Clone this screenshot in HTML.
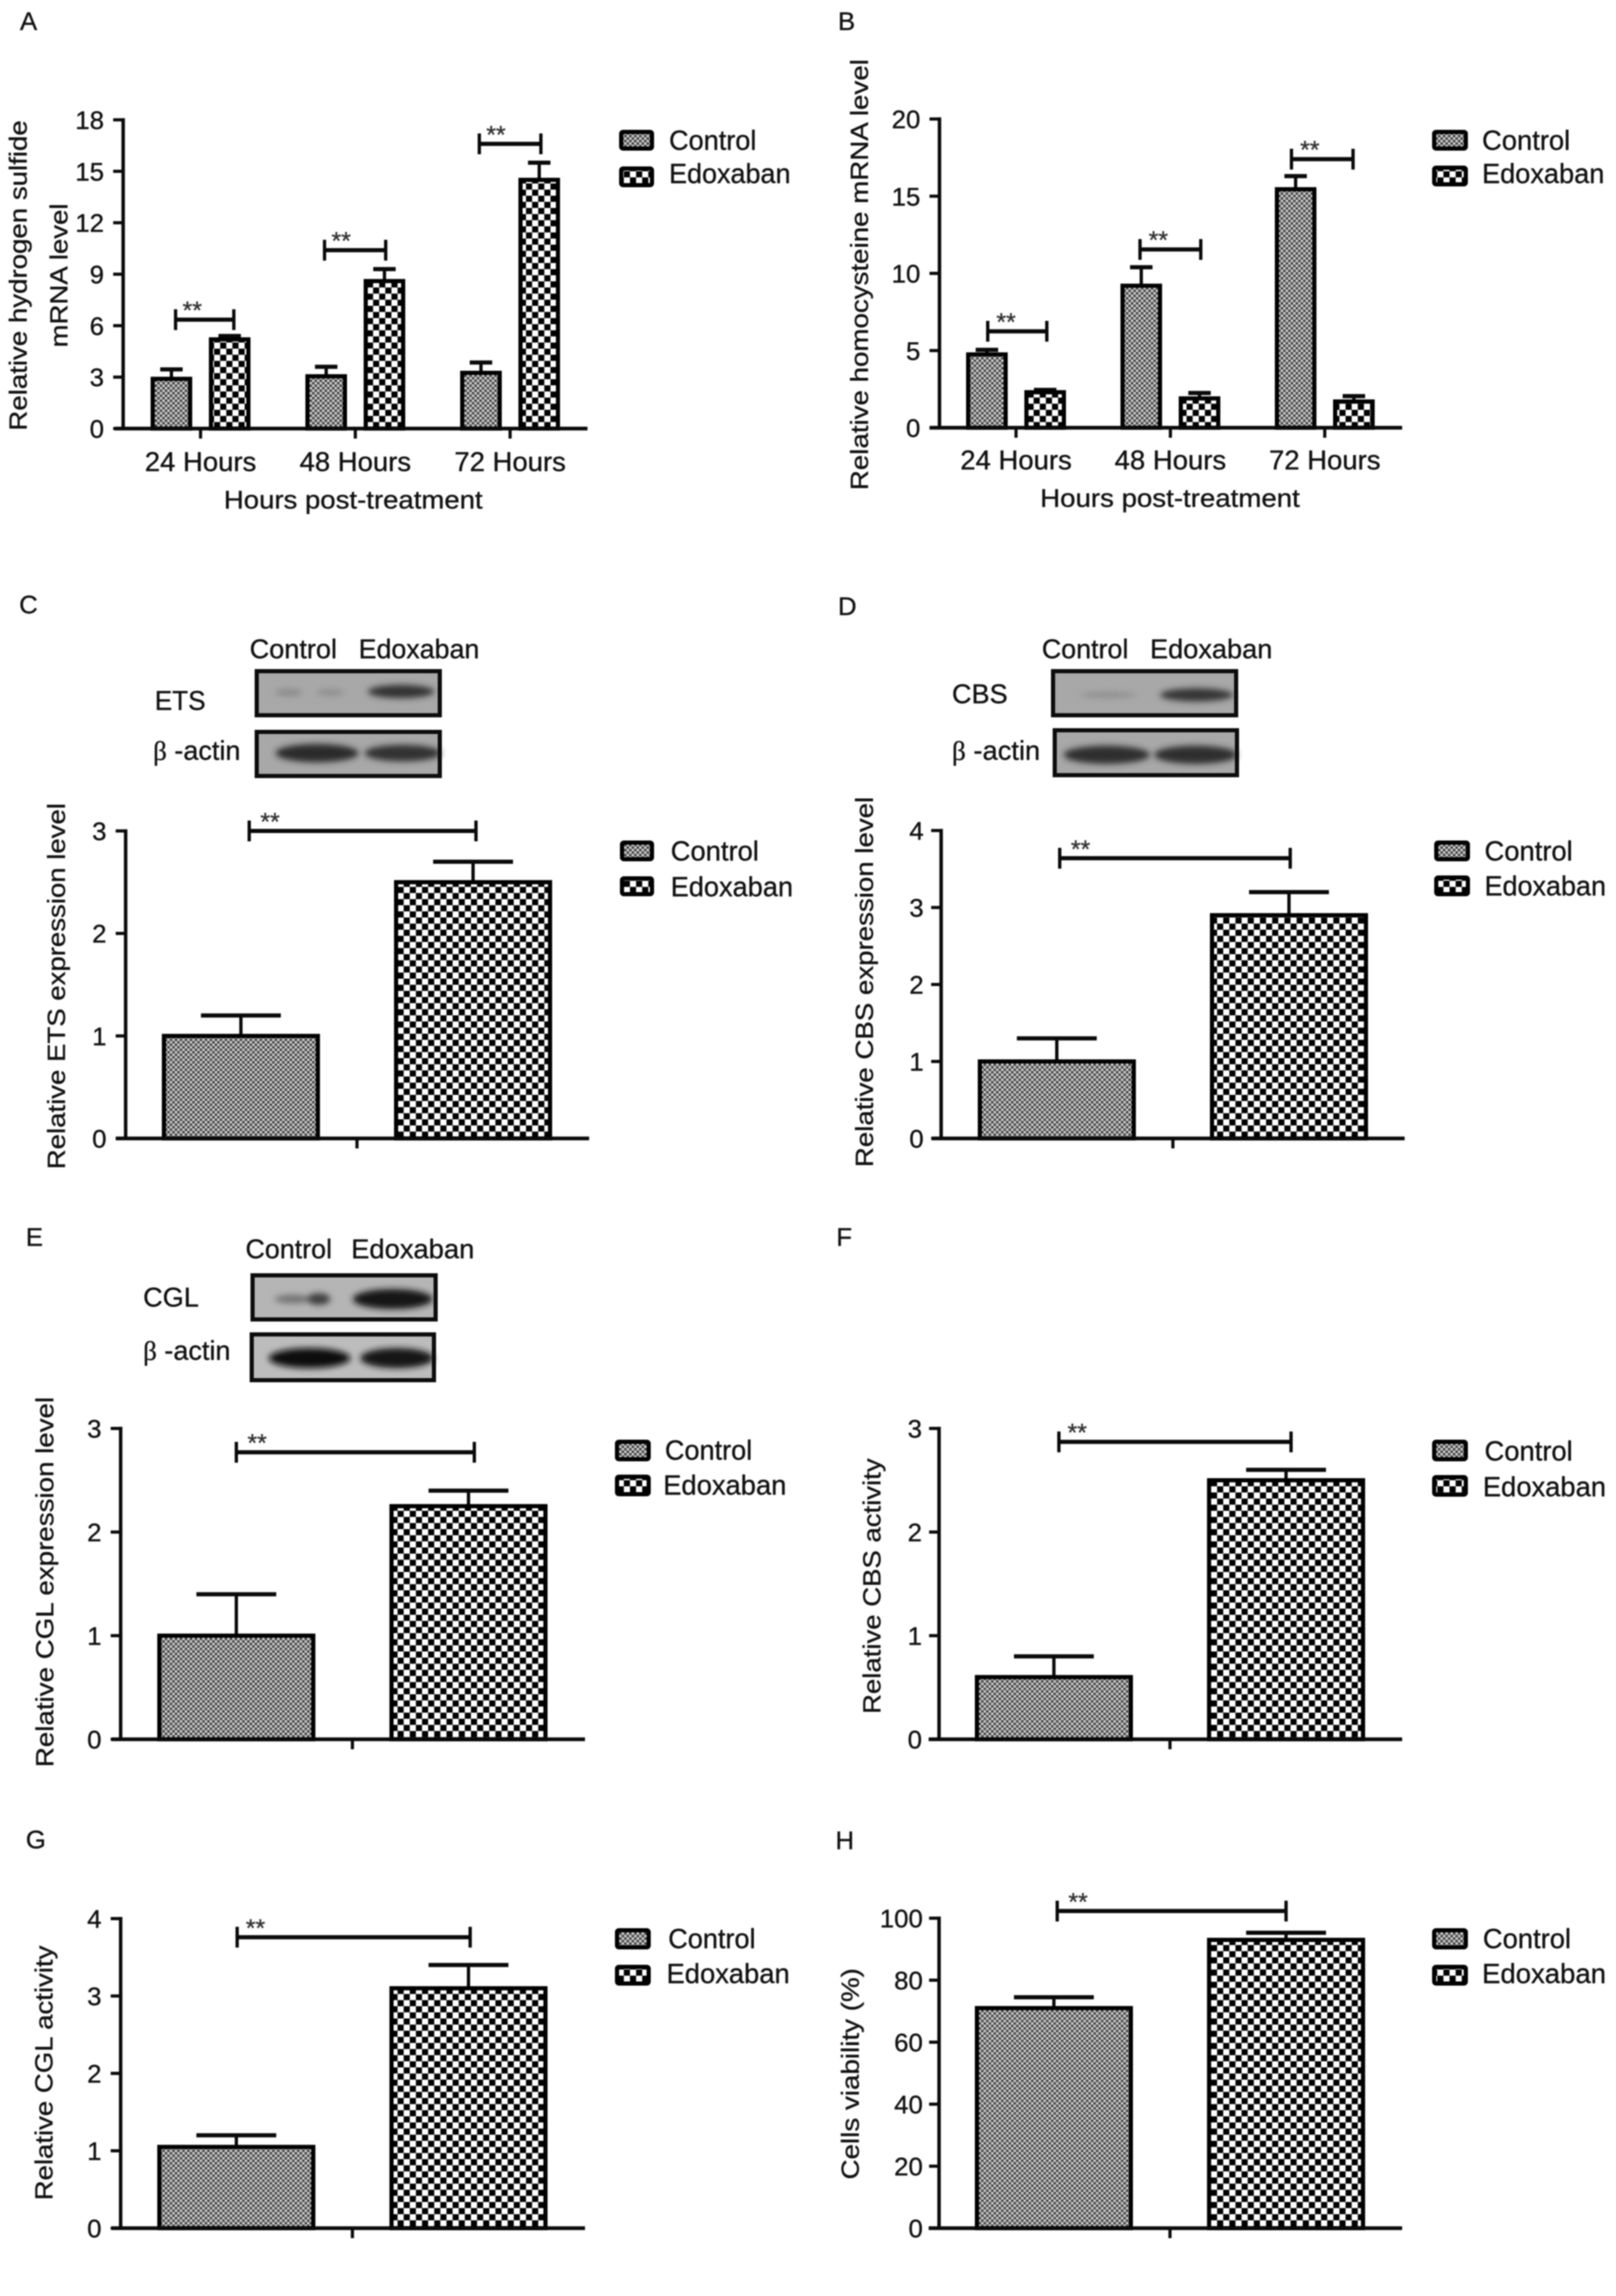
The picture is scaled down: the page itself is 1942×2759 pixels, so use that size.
<!DOCTYPE html>
<html lang="en">
<head>
<meta charset="utf-8">
<title>Edoxaban bar charts and western blots</title>
<style>
html,body{margin:0;padding:0;background:#fff;width:1942px;height:2759px;overflow:hidden}
svg{display:block;filter:blur(.75px)}
text{font-family:"Liberation Sans","DejaVu Sans",sans-serif;fill:#111;stroke:#111;stroke-width:.4px}
.lg{font-size:33px}.tt{font-size:30px}.bl{font-size:32px}.pl{font-size:31px}.xt{font-size:31px}
.beta{font-family:"Liberation Serif","DejaVu Serif",serif}
</style>
</head>
<body>
<svg id="figure" xmlns="http://www.w3.org/2000/svg" width="1942" height="2759" viewBox="0 0 1942 2759">
<defs>
<pattern id="ctrlPat" patternUnits="userSpaceOnUse" width="6" height="6">
<rect width="6" height="6" fill="#cfcfcf"/><rect width="3" height="3" fill="#444"/><rect x="3" y="3" width="3" height="3" fill="#444"/>
</pattern>
<pattern id="edoxPat" patternUnits="userSpaceOnUse" width="14.7" height="14.7">
<rect width="14.7" height="14.7" fill="#fff"/><rect width="7.35" height="7.35" fill="#000"/><rect x="7.35" y="7.35" width="7.35" height="7.35" fill="#000"/>
</pattern>
<filter id="bandBlur" x="-30%" y="-60%" width="160%" height="220%"><feGaussianBlur stdDeviation="3.6"/></filter>
</defs>

<!-- Panel A -->
<g>
<text class="pl" x="24" y="36">A</text>
<text class="tt" text-anchor="middle" transform="translate(32,331) rotate(-90)" textLength="373" lengthAdjust="spacingAndGlyphs">Relative hydrogen sulfide</text>
<text class="tt" text-anchor="middle" transform="translate(81,331) rotate(-90)" textLength="173" lengthAdjust="spacingAndGlyphs">mRNA level</text>
<text class="xt" x="269" y="611" textLength="311" lengthAdjust="spacingAndGlyphs">Hours post-treatment</text>
<rect x="746.5" y="158.5" width="37" height="20" fill="url(#ctrlPat)" stroke="#000" stroke-width="5" rx="2"/>
<rect x="746.5" y="202.5" width="37" height="20" fill="url(#edoxPat)" stroke="#000" stroke-width="5" rx="2"/>
<text class="lg" x="804" y="180" textLength="105" lengthAdjust="spacingAndGlyphs">Control</text>
<text class="lg" x="804" y="220" textLength="146" lengthAdjust="spacingAndGlyphs">Edoxaban</text>
</g>

<!-- Panel B -->
<g>
<text class="pl" x="1007" y="36">B</text>
<text class="tt" text-anchor="middle" transform="translate(1043,330) rotate(-90)" textLength="518" lengthAdjust="spacingAndGlyphs">Relative homocysteine mRNA level</text>
<text class="xt" x="1250" y="609" textLength="312" lengthAdjust="spacingAndGlyphs">Hours post-treatment</text>
<rect x="1723.5" y="158.5" width="38" height="20" fill="url(#ctrlPat)" stroke="#000" stroke-width="5" rx="2"/>
<rect x="1723.5" y="201.5" width="38" height="20" fill="url(#edoxPat)" stroke="#000" stroke-width="5" rx="2"/>
<text class="lg" x="1781" y="180" textLength="106" lengthAdjust="spacingAndGlyphs">Control</text>
<text class="lg" x="1781" y="220" textLength="147" lengthAdjust="spacingAndGlyphs">Edoxaban</text>
</g>

<!-- Panel C -->
<g>
<text class="pl" x="23" y="737">C</text>
<text class="bl" x="300" y="791" textLength="105" lengthAdjust="spacingAndGlyphs">Control</text>
<text class="bl" x="431" y="791" textLength="145" lengthAdjust="spacingAndGlyphs">Edoxaban</text>
<text class="bl" x="186" y="853" textLength="61" lengthAdjust="spacingAndGlyphs">ETS</text>
<text class="bl" x="184" y="913" textLength="105" lengthAdjust="spacingAndGlyphs"><tspan class="beta">β</tspan> -actin</text>
<g>
<rect x="308" y="806" width="221" height="54" fill="#a8a8a8"/>
<g filter="url(#bandBlur)"><ellipse cx="347" cy="832" rx="16" ry="4" fill="#888"/><ellipse cx="397" cy="832" rx="17" ry="4" fill="#8e8e8e"/><ellipse cx="482" cy="831" rx="40" ry="8" fill="#333"/></g>
<rect x="308.5" y="806.5" width="220" height="53" fill="none" stroke="#0c0c0c" stroke-width="5"/>
</g>
<g>
<rect x="308" y="879" width="221" height="54" fill="#a8a8a8"/>
<g filter="url(#bandBlur)"><ellipse cx="381" cy="905" rx="50" ry="11" fill="#2c2c2c"/><ellipse cx="484" cy="905" rx="46" ry="10" fill="#303030"/></g>
<rect x="308.5" y="879.5" width="220" height="53" fill="none" stroke="#0c0c0c" stroke-width="5"/>
</g>
<text class="tt" text-anchor="middle" transform="translate(78,1185) rotate(-90)" textLength="440" lengthAdjust="spacingAndGlyphs">Relative ETS expression level</text>
<rect x="747.5" y="1012.5" width="36" height="20" fill="url(#ctrlPat)" stroke="#000" stroke-width="5" rx="2"/>
<rect x="747.5" y="1055.5" width="36" height="19" fill="url(#edoxPat)" stroke="#000" stroke-width="5" rx="2"/>
<text class="lg" x="806" y="1034" textLength="106" lengthAdjust="spacingAndGlyphs">Control</text>
<text class="lg" x="806" y="1077" textLength="147" lengthAdjust="spacingAndGlyphs">Edoxaban</text>
</g>

<!-- Panel D -->
<g>
<text class="pl" x="1007" y="739">D</text>
<text class="bl" x="1252" y="791" textLength="104" lengthAdjust="spacingAndGlyphs">Control</text>
<text class="bl" x="1382" y="791" textLength="147" lengthAdjust="spacingAndGlyphs">Edoxaban</text>
<text class="bl" x="1144" y="845" textLength="67" lengthAdjust="spacingAndGlyphs">CBS</text>
<text class="bl" x="1144" y="913" textLength="106" lengthAdjust="spacingAndGlyphs"><tspan class="beta">β</tspan> -actin</text>
<g>
<rect x="1265" y="806" width="221" height="54" fill="#a8a8a8"/>
<g filter="url(#bandBlur)"><ellipse cx="1332" cy="835" rx="34" ry="3" fill="#8a8a8a"/><ellipse cx="1438" cy="835" rx="44" ry="8" fill="#363636"/></g>
<rect x="1265.5" y="806.5" width="220" height="53" fill="none" stroke="#0c0c0c" stroke-width="5"/>
</g>
<g>
<rect x="1267" y="877" width="220" height="55" fill="#a8a8a8"/>
<g filter="url(#bandBlur)"><ellipse cx="1330" cy="907" rx="52" ry="11" fill="#2e2e2e"/><ellipse cx="1437" cy="907" rx="50" ry="11" fill="#2e2e2e"/></g>
<rect x="1267.5" y="877.5" width="219" height="54" fill="none" stroke="#0c0c0c" stroke-width="5"/>
</g>
<text class="tt" text-anchor="middle" transform="translate(1049,1180) rotate(-90)" textLength="445" lengthAdjust="spacingAndGlyphs">Relative CBS expression level</text>
<rect x="1726" y="1012.5" width="38" height="20" fill="url(#ctrlPat)" stroke="#000" stroke-width="5" rx="2"/>
<rect x="1726" y="1054.5" width="38" height="20" fill="url(#edoxPat)" stroke="#000" stroke-width="5" rx="2"/>
<text class="lg" x="1784" y="1034" textLength="106" lengthAdjust="spacingAndGlyphs">Control</text>
<text class="lg" x="1784" y="1076" textLength="146" lengthAdjust="spacingAndGlyphs">Edoxaban</text>
</g>

<!-- Panel E -->
<g>
<text class="pl" x="31" y="1497">E</text>
<text class="bl" x="295" y="1512" textLength="104" lengthAdjust="spacingAndGlyphs">Control</text>
<text class="bl" x="422" y="1512" textLength="148" lengthAdjust="spacingAndGlyphs">Edoxaban</text>
<text class="bl" x="172" y="1570" textLength="67" lengthAdjust="spacingAndGlyphs">CGL</text>
<text class="bl" x="172" y="1634" textLength="105" lengthAdjust="spacingAndGlyphs"><tspan class="beta">β</tspan> -actin</text>
<g>
<rect x="303" y="1532" width="221" height="54" fill="#b5b5b5"/>
<g filter="url(#bandBlur)"><ellipse cx="352" cy="1561" rx="22" ry="5" fill="#707070"/><ellipse cx="383" cy="1561" rx="14" ry="7" fill="#3c3c3c"/><ellipse cx="472" cy="1561" rx="48" ry="12" fill="#141414"/></g>
<rect x="303.5" y="1532.5" width="220" height="53" fill="none" stroke="#0c0c0c" stroke-width="5"/>
</g>
<g>
<rect x="302" y="1603" width="220" height="56" fill="#bcbcbc"/>
<g filter="url(#bandBlur)"><ellipse cx="372" cy="1632" rx="49" ry="12" fill="#0e0e0e"/><ellipse cx="477" cy="1632" rx="44" ry="12" fill="#121212"/></g>
<rect x="302.5" y="1603.5" width="219" height="55" fill="none" stroke="#0c0c0c" stroke-width="5"/>
</g>
<text class="tt" text-anchor="middle" transform="translate(64,1901) rotate(-90)" textLength="445" lengthAdjust="spacingAndGlyphs">Relative CGL expression level</text>
<rect x="741.5" y="1732.5" width="38" height="21" fill="url(#ctrlPat)" stroke="#000" stroke-width="5" rx="2"/>
<rect x="741.5" y="1774.5" width="38" height="21" fill="url(#edoxPat)" stroke="#000" stroke-width="5" rx="2"/>
<text class="lg" x="799" y="1754" textLength="105" lengthAdjust="spacingAndGlyphs">Control</text>
<text class="lg" x="797" y="1796" textLength="148" lengthAdjust="spacingAndGlyphs">Edoxaban</text>
</g>

<!-- Panel F -->
<g>
<text class="pl" x="1005" y="1497">F</text>
<text class="tt" text-anchor="middle" transform="translate(1058,1906) rotate(-90)" textLength="307" lengthAdjust="spacingAndGlyphs">Relative CBS activity</text>
<rect x="1723.5" y="1732.5" width="38" height="21" fill="url(#ctrlPat)" stroke="#000" stroke-width="5" rx="2"/>
<rect x="1723.5" y="1775" width="38" height="21" fill="url(#edoxPat)" stroke="#000" stroke-width="5" rx="2"/>
<text class="lg" x="1784" y="1755" textLength="106" lengthAdjust="spacingAndGlyphs">Control</text>
<text class="lg" x="1782" y="1798" textLength="148" lengthAdjust="spacingAndGlyphs">Edoxaban</text>
</g>

<!-- Panel G -->
<g>
<text class="pl" x="31" y="2221">G</text>
<text class="tt" text-anchor="middle" transform="translate(63,2491) rotate(-90)" textLength="306" lengthAdjust="spacingAndGlyphs">Relative CGL activity</text>
<rect x="741.5" y="2319.5" width="38" height="20.5" fill="url(#ctrlPat)" stroke="#000" stroke-width="5" rx="2"/>
<rect x="741.5" y="2363.5" width="38" height="20" fill="url(#edoxPat)" stroke="#000" stroke-width="5" rx="2"/>
<text class="lg" x="803" y="2341" textLength="105" lengthAdjust="spacingAndGlyphs">Control</text>
<text class="lg" x="801" y="2383" textLength="148" lengthAdjust="spacingAndGlyphs">Edoxaban</text>
</g>

<!-- Panel H -->
<g>
<text class="pl" x="1004" y="2222">H</text>
<text class="tt" text-anchor="middle" transform="translate(1032,2492) rotate(-90)" textLength="254" lengthAdjust="spacingAndGlyphs">Cells viability (%)</text>
<rect x="1723.5" y="2319.5" width="38" height="20.5" fill="url(#ctrlPat)" stroke="#000" stroke-width="5" rx="2"/>
<rect x="1723.5" y="2363.5" width="38" height="20" fill="url(#edoxPat)" stroke="#000" stroke-width="5" rx="2"/>
<text class="lg" x="1782" y="2341" textLength="106" lengthAdjust="spacingAndGlyphs">Control</text>
<text class="lg" x="1781" y="2383" textLength="149" lengthAdjust="spacingAndGlyphs">Edoxaban</text>
</g>

<g id="marks"></g>
</svg>

<script>
// ---- Data ----
const aCategories = ['24 Hours', '48 Hours', '72 Hours'];
const aControl = [2.9, 3.05, 3.25];
const aControlUpper = [3.45, 3.6, 3.85];
const aEdoxaban = [5.2, 8.6, 14.5];
const aEdoxabanUpper = [5.4, 9.3, 15.5];
const aTicks = [0, 3, 6, 9, 12, 15, 18];
const aBracket = [6.35, 10.4, 16.6];

const bCategories = ['24 Hours', '48 Hours', '72 Hours'];
const bControl = [4.75, 9.2, 15.45];
const bControlUpper = [5.05, 10.4, 16.3];
const bEdoxaban = [2.3, 1.9, 1.7];
const bEdoxabanUpper = [2.45, 2.25, 2.05];
const bTicks = [0, 5, 10, 15, 20];
const bBracket = [6.25, 11.55, 17.4];

const cCategories = [''];
const cControl = [1];
const cControlUpper = [1.2];
const cEdoxaban = [2.5];
const cEdoxabanUpper = [2.7];
const cTicks = [0, 1, 2, 3];
const cBracket = [3];

const dCategories = [''];
const dControl = [1];
const dControlUpper = [1.3];
const dEdoxaban = [2.9];
const dEdoxabanUpper = [3.2];
const dTicks = [0, 1, 2, 3, 4];
const dBracket = [3.64];

const eCategories = [''];
const eControl = [1];
const eControlUpper = [1.4];
const eEdoxaban = [2.25];
const eEdoxabanUpper = [2.4];
const eTicks = [0, 1, 2, 3];
const eBracket = [2.77];

const fCategories = [''];
const fControl = [0.6];
const fControlUpper = [0.8];
const fEdoxaban = [2.5];
const fEdoxabanUpper = [2.6];
const fTicks = [0, 1, 2, 3];
const fBracket = [2.87];

const gCategories = [''];
const gControl = [1.05];
const gControlUpper = [1.2];
const gEdoxaban = [3.1];
const gEdoxabanUpper = [3.4];
const gTicks = [0, 1, 2, 3, 4];
const gBracket = [3.76];

const hCategories = [''];
const hControl = [71];
const hControlUpper = [74.5];
const hEdoxaban = [93];
const hEdoxabanUpper = [95.3];
const hTicks = [0, 20, 40, 60, 80, 100];
const hBracket = [102.3];

const SVGNS = 'http://www.w3.org/2000/svg';
const marksRoot = document.getElementById('marks');

function make(parent, tag, attrs, name, content) {
  const node = document.createElementNS(SVGNS, tag);
  for (const k in attrs) node.setAttribute(k, attrs[k]);
  
  
  if (content !== undefined) node.textContent = content;
  parent.appendChild(node);
  return node;
}

function line(parent, x1, y1, x2, y2, sw, name) {
  return make(parent, 'line', {x1: x1, y1: y1, x2: x2, y2: y2, stroke: '#0a0a0a', 'stroke-width': sw, 'stroke-linecap': 'butt'}, name);
}

function drawChart(p, d, L) {
  const g = make(marksRoot, 'g', {}, 'chart-' + p);
  const yMax = d.ticks[d.ticks.length - 1];
  const yScale = v => L.y0 - (v / yMax) * (L.y0 - L.yTop);
  const bandX = i => L.tick0 + i * L.tickStep;
  const SW = 5;
  const pick = (o, i) => Array.isArray(o) ? o[i] : o;

  d.categories.forEach((cat, i) => {
    const cx = bandX(i) - L.offset;
    const ex = bandX(i) + L.offset;
    const w = L.barW - SW;
    // error bars sit behind the bars
    line(g, cx, yScale(d.control[i]), cx, yScale(d.controlUpper[i]), 4, 'error-bar-control-' + p + '-' + i);
    line(g, cx - L.capW / 2, yScale(d.controlUpper[i]), cx + L.capW / 2, yScale(d.controlUpper[i]), 5, 'error-cap-control-' + p + '-' + i);
    line(g, ex, yScale(d.edoxaban[i]), ex, yScale(d.edoxabanUpper[i]), 4, 'error-bar-edoxaban-' + p + '-' + i);
    line(g, ex - L.capW / 2, yScale(d.edoxabanUpper[i]), ex + L.capW / 2, yScale(d.edoxabanUpper[i]), 5, 'error-cap-edoxaban-' + p + '-' + i);

    make(g, 'rect', {x: cx - w / 2, y: yScale(d.control[i]), width: w, height: L.y0 - yScale(d.control[i]), fill: 'url(#ctrlPat)', stroke: '#000', 'stroke-width': SW}, 'bar-control-' + p + '-' + i);
    make(g, 'rect', {x: ex - w / 2, y: yScale(d.edoxaban[i]), width: w, height: L.y0 - yScale(d.edoxaban[i]), fill: 'url(#edoxPat)', stroke: '#000', 'stroke-width': SW}, 'bar-edoxaban-' + p + '-' + i);

    // significance bracket
    const bx1 = cx + pick(L.bDx1, i);
    const bx2 = ex + pick(L.bDx2, i);
    const by = yScale(d.bracket[i]);
    line(g, bx1, by, bx2, by, 5, 'significance-bracket-' + p + '-' + i);
    line(g, bx1, by - 12.5, bx1, by + 12.5, 4, 'significance-bracket-left-end-' + p + '-' + i);
    line(g, bx2, by - 12.5, bx2, by + 12.5, 4, 'significance-bracket-right-end-' + p + '-' + i);
    const star = make(g, 'text', {x: bx1 + L.starDx, y: by - 1, 'text-anchor': 'middle', 'font-size': 30}, 'significance-stars-' + p + '-' + i, '**');
    star.setAttribute('style', 'fill:#333;stroke:#333');

    // category tick and label
    line(g, bandX(i), L.y0, bandX(i), L.y0 + 12, 3.8, 'x-tick-' + p + '-' + i);
    if (cat) {
      make(g, 'text', {x: bandX(i), y: L.xLabelY, 'text-anchor': 'middle', 'font-size': 32, textLength: 134, lengthAdjust: 'spacingAndGlyphs'}, 'x-tick-label-' + p + '-' + i, cat);
    }
  });

  // axes
  line(g, L.axisX, L.yTop - 2, L.axisX, L.y0, 4.2, 'y-axis-' + p);
  line(g, L.xStart, L.y0, L.xEnd, L.y0, 4.4, 'x-axis-' + p);
  d.ticks.forEach(t => {
    line(g, L.axisX - 12, yScale(t), L.axisX, yScale(t), 3.8, 'y-tick-' + p + '-' + t);
    make(g, 'text', {x: L.tickRight, y: yScale(t) + 11, 'text-anchor': 'end', 'font-size': 31}, 'y-tick-label-' + p + '-' + t, String(t));
  });
}

drawChart('a', {categories: aCategories, control: aControl, controlUpper: aControlUpper, edoxaban: aEdoxaban, edoxabanUpper: aEdoxabanUpper, ticks: aTicks, bracket: aBracket},
  {axisX: 148, xStart: 138, xEnd: 706, y0: 515, yTop: 144, tick0: 241, tickStep: 186, offset: 35, barW: 50, capW: 27, bDx1: [5, -2, -2], bDx2: [5, 1.5, 2], starDx: 20, tickRight: 125, xLabelY: 566});
drawChart('b', {categories: bCategories, control: bControl, controlUpper: bControlUpper, edoxaban: bEdoxaban, edoxabanUpper: bEdoxabanUpper, ticks: bTicks, bracket: bBracket},
  {axisX: 1129, xStart: 1117, xEnd: 1685, y0: 514, yTop: 143, tick0: 1221, tickStep: 185.5, offset: 35, barW: 50, capW: 27, bDx1: [1, -1.5, -5], bDx2: [2, 1.5, -1], starDx: 22, tickRight: 1106, xLabelY: 564});
drawChart('c', {categories: cCategories, control: cControl, controlUpper: cControlUpper, edoxaban: cEdoxaban, edoxabanUpper: cEdoxabanUpper, ticks: cTicks, bracket: cBracket},
  {axisX: 151, xStart: 139, xEnd: 708, y0: 1368, yTop: 998.5, tick0: 429, tickStep: 0, offset: 139.5, barW: 190, capW: 96, bDx1: 10, bDx2: 3.5, starDx: 25, tickRight: 128});
drawChart('d', {categories: dCategories, control: dControl, controlUpper: dControlUpper, edoxaban: dEdoxaban, edoxabanUpper: dEdoxabanUpper, ticks: dTicks, bracket: dBracket},
  {axisX: 1131, xStart: 1120, xEnd: 1688, y0: 1368, yTop: 998, tick0: 1409.5, tickStep: 0, offset: 139.5, barW: 190, capW: 96, bDx1: 3.5, bDx2: 1.5, starDx: 25, tickRight: 1110});
drawChart('e', {categories: eCategories, control: eControl, controlUpper: eControlUpper, edoxaban: eEdoxaban, edoxabanUpper: eEdoxabanUpper, ticks: eTicks, bracket: eBracket},
  {axisX: 145, xStart: 134, xEnd: 703, y0: 2090, yTop: 1716.5, tick0: 423.5, tickStep: 0, offset: 139.5, barW: 190, capW: 96, bDx1: 0, bDx2: 7, starDx: 25, tickRight: 122});
drawChart('f', {categories: fCategories, control: fControl, controlUpper: fControlUpper, edoxaban: fEdoxaban, edoxabanUpper: fEdoxabanUpper, ticks: fTicks, bracket: fBracket},
  {axisX: 1128.5, xStart: 1116, xEnd: 1685, y0: 2090, yTop: 1716.5, tick0: 1406, tickStep: 0, offset: 139.5, barW: 190, capW: 96, bDx1: 6, bDx2: 6, starDx: 22, tickRight: 1108});
drawChart('g', {categories: gCategories, control: gControl, controlUpper: gControlUpper, edoxaban: gEdoxaban, edoxabanUpper: gEdoxabanUpper, ticks: gTicks, bracket: gBracket},
  {axisX: 145, xStart: 134, xEnd: 703, y0: 2677.5, yTop: 2305.5, tick0: 423.5, tickStep: 0, offset: 139.5, barW: 190, capW: 96, bDx1: 1, bDx2: 2, starDx: 22, tickRight: 122});
drawChart('h', {categories: hCategories, control: hControl, controlUpper: hControlUpper, edoxaban: hEdoxaban, edoxabanUpper: hEdoxabanUpper, ticks: hTicks, bracket: hBracket},
  {axisX: 1128.5, xStart: 1116, xEnd: 1685, y0: 2677.5, yTop: 2305, tick0: 1406, tickStep: 0, offset: 139.5, barW: 190, capW: 96, bDx1: 4, bDx2: 0, starDx: 25, tickRight: 1109});
</script>
</body>
</html>
